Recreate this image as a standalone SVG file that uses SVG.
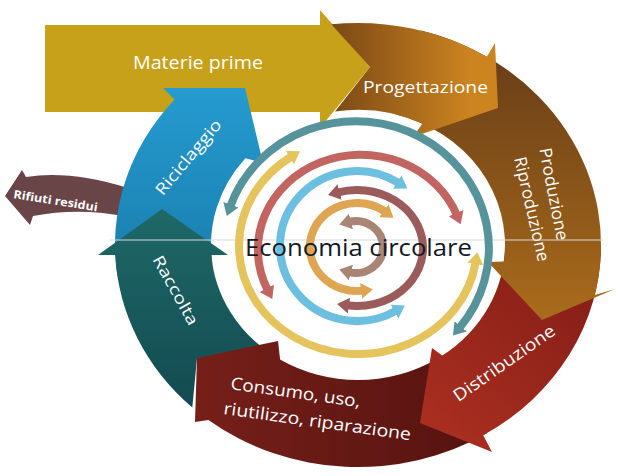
<svg xmlns="http://www.w3.org/2000/svg" width="619" height="476" viewBox="0 0 619 476">
<style>
.lbl{font-family:"Open Sans","Liberation Sans",sans-serif;fill:#fff;font-size:17px}
.ring{fill:none;stroke-width:8}
</style>
<defs>
<linearGradient id="gProg" gradientUnits="userSpaceOnUse" x1="335" y1="0" x2="470" y2="0"><stop offset="0" stop-color="#7d4a16"/><stop offset="1" stop-color="#cc8420"/></linearGradient>
<linearGradient id="gProd" gradientUnits="userSpaceOnUse" x1="0" y1="60" x2="0" y2="310"><stop offset="0" stop-color="#6a3f17"/><stop offset="1" stop-color="#a86a1c"/></linearGradient>
<linearGradient id="gDist" gradientUnits="userSpaceOnUse" x1="560" y1="290" x2="440" y2="430"><stop offset="0" stop-color="#8a2018"/><stop offset="1" stop-color="#a82e20"/></linearGradient>
<linearGradient id="gCons" gradientUnits="userSpaceOnUse" x1="200" y1="0" x2="480" y2="0"><stop offset="0" stop-color="#761f19"/><stop offset="1" stop-color="#561310"/></linearGradient>
<linearGradient id="gRacc" gradientUnits="userSpaceOnUse" x1="0" y1="210" x2="0" y2="410"><stop offset="0" stop-color="#1f6868"/><stop offset="1" stop-color="#124a50"/></linearGradient>
<linearGradient id="gRic" gradientUnits="userSpaceOnUse" x1="0" y1="88" x2="0" y2="270"><stop offset="0" stop-color="#259bd0"/><stop offset="1" stop-color="#1a7eae"/></linearGradient>
<marker id="mTeal" viewBox="0 0 12 16" refX="2" refY="8" markerWidth="12" markerHeight="16" markerUnits="userSpaceOnUse" orient="auto-start-reverse"><path d="M0,0 L12,8 L0,16 Z" fill="#56939a"/></marker>
<marker id="mYel" viewBox="0 0 12 16" refX="2" refY="8" markerWidth="12" markerHeight="16" markerUnits="userSpaceOnUse" orient="auto-start-reverse"><path d="M0,0 L12,8 L0,16 Z" fill="#e5c45e"/></marker>
<marker id="mRed" viewBox="0 0 12 16" refX="2" refY="8" markerWidth="12" markerHeight="16" markerUnits="userSpaceOnUse" orient="auto-start-reverse"><path d="M0,0 L12,8 L0,16 Z" fill="#c26560"/></marker>
<marker id="mBlue" viewBox="0 0 12 16" refX="2" refY="8" markerWidth="12" markerHeight="16" markerUnits="userSpaceOnUse" orient="auto-start-reverse"><path d="M0,0 L12,8 L0,16 Z" fill="#6dbfe0"/></marker>
<marker id="mMauve" viewBox="0 0 12 16" refX="2" refY="8" markerWidth="12" markerHeight="16" markerUnits="userSpaceOnUse" orient="auto-start-reverse"><path d="M0,0 L12,8 L0,16 Z" fill="#9b5b5b"/></marker>
<marker id="mOr" viewBox="0 0 12 16" refX="2" refY="8" markerWidth="12" markerHeight="16" markerUnits="userSpaceOnUse" orient="auto-start-reverse"><path d="M0,0 L12,8 L0,16 Z" fill="#dea552"/></marker>
<marker id="mTaupe" viewBox="0 0 12 16" refX="2" refY="8" markerWidth="12" markerHeight="16" markerUnits="userSpaceOnUse" orient="auto-start-reverse"><path d="M0,0 L12,8 L0,16 Z" fill="#a88574"/></marker>
</defs>
<rect width="619" height="476" fill="#fff"/>

<g id="rifiuti-residui">
<path d="M5,196 L22,170 L26,177 Q70,170 128,188 L128,217 Q80,207 33,216 L30,225 Z" fill="#6a4548"/>
<text class="lbl" transform="translate(13,198) rotate(9)" style="font-size:11.5px;font-weight:bold" textLength="85" lengthAdjust="spacingAndGlyphs">Rifiuti residui</text>
</g>

<g id="materie-prime">
<path d="M45,25 L320,25 L320,10 L370,67 L320,128 L320,112 L45,112 Z" fill="#c8a11a"/>
<text class="lbl" x="198" y="69" text-anchor="middle" style="font-size:18px" textLength="130" lengthAdjust="spacingAndGlyphs">Materie prime</text>
</g>

<g id="riciclaggio">
<path d="M117.4,275.9 A243,222 0 0 1 174.6,99.4 L163,88 L245,88 L263,163 L245.4,158.2 A147,135 0 0 0 212.4,263.8 Z" fill="url(#gRic)"/>
<text class="lbl" transform="translate(188,157) rotate(-50)" y="6" text-anchor="middle" style="font-size:16px" textLength="93" lengthAdjust="spacingAndGlyphs">Riciclaggio</text>
</g>

<g id="raccolta">
<path d="M192.3,407.4 A243,222 0 0 1 115.3,255.1 L98,255 L162,209 L228,255 L211.4,254.9 A147,135 0 0 0 273.7,355.6 L197,358 Z" fill="url(#gRacc)"/>
<text class="lbl" transform="translate(176,290) rotate(61)" y="6" text-anchor="middle" style="font-size:16px" textLength="77" lengthAdjust="spacingAndGlyphs">Raccolta</text>
</g>

<g id="consumo">
<path d="M486.8,433.3 A243,222 0 0 1 208.4,420 L195,422 L197,358 L278,341 L280.1,359.5 A147,135 0 0 0 435.9,359.5 Z" fill="url(#gCons)"/>
<g transform="translate(230,389) rotate(8)">
<text class="lbl" x="0" y="0" textLength="131" lengthAdjust="spacingAndGlyphs">Consumo, uso,</text>
<text class="lbl" x="-3.5" y="25.7" textLength="189" lengthAdjust="spacingAndGlyphs">riutilizzo, riparazione</text>
</g>
</g>

<g id="distribuzione">
<path d="M601,245 A243,222 0 0 1 483.2,435.3 L492,452 L420,423 L432,348 L442.3,355.6 A147,135 0 0 0 505,245 Z" fill="url(#gDist)"/>
<text class="lbl" transform="translate(504,363) rotate(-35)" y="6" text-anchor="middle" textLength="120" lengthAdjust="spacingAndGlyphs">Distribuzione</text>
</g>

<g id="produzione">
<path d="M420.9,30.6 A243,222 0 0 1 594.8,294.9 L615,289 L542,320 L488,262 L503.9,261.5 A147,135 0 0 0 396.1,114.6 Z" fill="url(#gProd)"/>
<text class="lbl" transform="translate(554,194) rotate(79)" y="6" text-anchor="middle" textLength="94" lengthAdjust="spacingAndGlyphs">Produzione</text>
<text class="lbl" transform="translate(532,209) rotate(77)" y="6" text-anchor="middle" textLength="107" lengthAdjust="spacingAndGlyphs">Riproduzione</text>
</g>

<g id="progettazione">
<path d="M331.3,24.3 A243,222 0 0 1 486.8,56.7 L495,43 L498,108 L413,137 L422.4,123.6 A147,135 0 0 0 335,111.6 L370,67 Z" fill="url(#gProg)"/>
<text class="lbl" x="425.5" y="93" text-anchor="middle" style="font-size:16px" textLength="125" lengthAdjust="spacingAndGlyphs">Progettazione</text>
</g>

<line x1="110" y1="240" x2="603" y2="240" stroke="#d9d9d9" stroke-width="1"/>

<g id="connectors">
<path class="ring" stroke="#56939a" d="M230.2,206.6 A133,127 0 1 1 459.4,327.9" marker-start="url(#mTeal)" marker-end="url(#mTeal)"/>
<path class="ring" stroke="#e5c45e" d="M291.5,156.5 A119,108 0 1 0 475.7,262" marker-start="url(#mYel)" marker-end="url(#mYel)"/>
<path class="ring" stroke="#c26560" d="M267.7,290.1 A103,95 0 1 1 456.8,215" marker-start="url(#mRed)" marker-end="url(#mRed)"/>
<path class="ring" stroke="#6dbfe0" d="M398.9,183.1 A77,75 0 1 0 396.2,310.6" marker-start="url(#mBlue)" marker-end="url(#mBlue)"/>
<path class="ring" stroke="#9b5b5b" d="M337.7,192.5 A66,58 0 1 1 347,305.3" marker-start="url(#mMauve)" marker-end="url(#mMauve)"/>
<path class="ring" stroke="#dea552" d="M385.4,212 A47,44 0 1 0 363,290.6" marker-start="url(#mOr)" marker-end="url(#mOr)"/>
<path class="ring" stroke="#a88574" d="M349,221.9 A27,26 0 1 1 349,272.1" marker-start="url(#mTaupe)" marker-end="url(#mTaupe)"/>
</g>

<g id="economia-circolare">
<text x="358.5" y="256" text-anchor="middle" style="font-family:'Open Sans','Liberation Sans',sans-serif;font-size:23px;fill:#121826" textLength="227" lengthAdjust="spacingAndGlyphs">Economia circolare</text>
</g>
</svg>
